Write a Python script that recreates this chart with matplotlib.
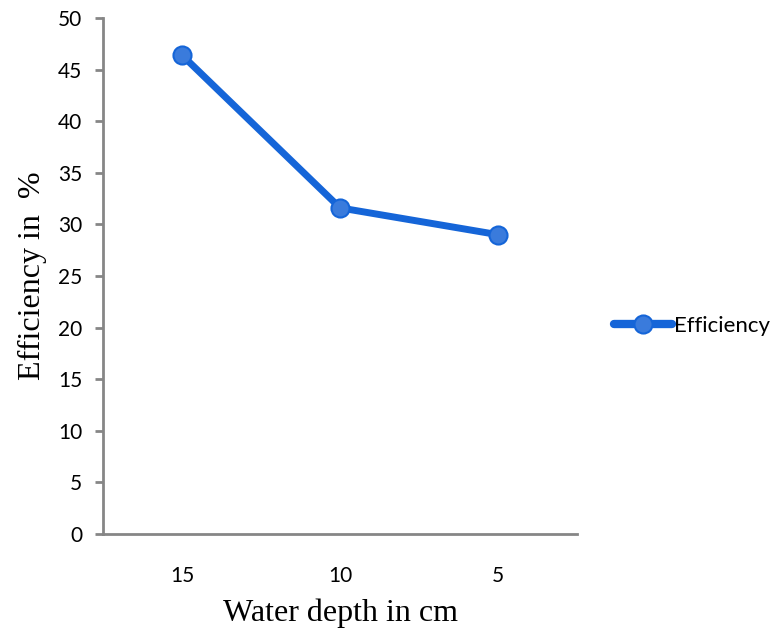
import numpy as np
import matplotlib.pyplot as plt

# efficiency vs water depth
depth = ['15', '10', '5']
efficiency = [46.4, 31.6, 29.0]

LINE = '#1565d8'
FACE = '#3a7bdc'

fig = plt.figure(figsize=(7.8, 6.31), dpi=100)
ax = fig.add_axes([0.132, 0.1537, 0.608, 0.8178])

x = np.arange(len(depth))
ax.plot(x, efficiency, color=LINE, linewidth=5, marker='o', markersize=13,
        markerfacecolor=FACE, markeredgecolor=LINE, markeredgewidth=1.5,
        label='Efficiency', solid_capstyle='round')

ax.set_xlim(-0.5, len(depth) - 0.5)
ax.set_ylim(0, 50)
ax.set_yticks(np.arange(0, 51, 5))
ax.set_xticks(x)
ax.set_xticklabels(depth)

for side in ('top', 'right'):
    ax.spines[side].set_visible(False)
for side in ('left', 'bottom'):
    ax.spines[side].set_color('#868686')
    ax.spines[side].set_linewidth(2)

ax.tick_params(axis='y', length=6, width=2, color='#868686', direction='out',
               labelsize=15, pad=9)
ax.tick_params(axis='x', length=0, labelsize=15, pad=23)
for lbl in ax.get_xticklabels() + ax.get_yticklabels():
    lbl.set_family('Lato')

ax.set_xlabel('Water depth in cm', family='Liberation Serif', fontsize=23, labelpad=9)
ax.set_ylabel('Efficiency in  %', family='Liberation Serif', fontsize=23, labelpad=8)

leg = fig.legend(loc='center left', bbox_to_anchor=(0.762, 0.483), frameon=False,
                 handlelength=2.6, handletextpad=0.1,
                 prop={'family': 'Lato', 'size': 16})
for h in leg.get_lines():
    h.set_linewidth(6)

fig.savefig('out.png', dpi=100)
